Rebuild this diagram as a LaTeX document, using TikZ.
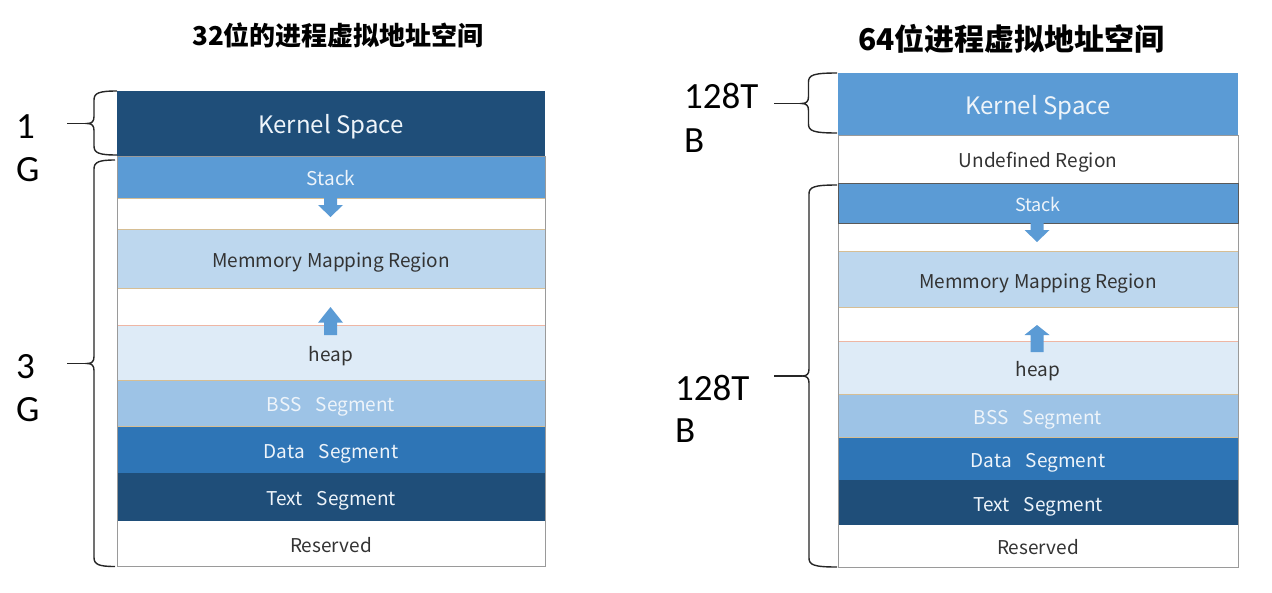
\documentclass[tikz,border=0pt]{standalone}
\usepackage{fontspec}
\setmainfont{Noto Sans CJK SC}
\newfontfamily\sidefont{Carlito}
\definecolor{navy}{HTML}{1F4E79}
\definecolor{midblue}{HTML}{5B9BD5}
\definecolor{mmapblue}{HTML}{BDD7EE}
\definecolor{heapblue}{HTML}{DEEBF7}
\definecolor{bssblue}{HTML}{9DC3E6}
\definecolor{datablue}{HTML}{2E75B6}
\definecolor{septan}{HTML}{D6BE94}
\definecolor{framegray}{HTML}{9A9A9A}
\definecolor{darktext}{HTML}{333333}
\definecolor{lighttext}{HTML}{EEF4FA}
\definecolor{bracegray}{HTML}{262626}

% one horizontal band of an address-space column
% #1 name, #2 left x, #3 top y, #4 width, #5 height, #6 fill, #7 text colour, #8 font size, #9 label
\newcommand\band[9]{%
  \node[band, minimum width=#4, minimum height=#5, fill=#6, text=#7,
        text height=\dimexpr #8pt*72/100+3.5pt\relax,
        font=\fontsize{#8}{#8}\selectfont] (#1) at ({#2+#4/2},{#3+#5/2}) {#9};}

% curly brace: #1 spine x, #2 end x, #3 top y, #4 tip y, #5 bottom y, #6 tick start x
\newcommand\sizebrace[6]{%
  \draw[bracestyle] (#2,#3) .. controls ({#1+5},#3) and (#1,{#3+2}) .. (#1,{#3+9})
    -- (#1,{#4-7}) .. controls (#1,{#4-2}) and ({#1-2},#4) .. ({#1-7},#4)
    .. controls ({#1-2},#4) and (#1,{#4+2}) .. (#1,{#4+7})
    -- (#1,{#5-9}) .. controls (#1,{#5-2}) and ({#1+5},#5) .. (#2,#5);
  \draw[bracestyle] (#6,#4) -- ({#1-7},#4);}

% block arrow: #1 centre x, #2 tail y, #3 head base y, #4 tip y
\newcommand\blockarrow[4]{%
  \fill[midblue] ({#1-6.5},#2) -- ({#1+6.5},#2) -- ({#1+6.5},#3) -- ({#1+12.5},#3)
    -- (#1,#4) -- ({#1-12.5},#3) -- ({#1-6.5},#3) -- cycle;}

\begin{document}
\begin{tikzpicture}[x=1pt,y=-1pt,
  band/.style={inner sep=0pt, outer sep=0pt, draw=none, text depth=0pt},
  sep/.style={draw=septan, line width=0.8pt},
  frame/.style={draw=framegray, line width=0.9pt},
  darkframe/.style={draw=black!65, line width=0.9pt},
  bracestyle/.style={draw=bracegray, line width=1.4pt},
  sidelabel/.style={font=\sidefont\fontsize{37}{37}\selectfont, text=black, inner sep=0pt, anchor=base west},
  title/.style={font=\bfseries\fontsize{26}{30}\selectfont, inner sep=0pt, anchor=base}]
\useasboundingbox (0,0) rectangle (1272,592);
\fill[white] (0,0) rectangle (1272,592);

% titles
\node[title] (t32) at (338,45.5) {32位的进程虚拟地址空间};
\node[title, font=\bfseries\fontsize{30}{34}\selectfont] (t64) at (1011.5,50) {64位进程虚拟地址空间};

% ---- 32-bit column ----
\band{k32}{117}{91}{428}{65}{navy}{lighttext}{24}{Kernel Space}
\band{st32}{117}{156}{428}{42.3}{midblue}{lighttext}{19}{Stack}
\band{mm32}{117}{229.3}{428}{59}{mmapblue}{darktext}{19}{Memmory Mapping Region}
\band{hp32}{117}{325.3}{428}{54.7}{heapblue}{darktext}{19}{heap}
\band{bss32}{117}{380}{428}{46.7}{bssblue}{lighttext}{19}{BSS\hspace{0.75em}Segment}
\band{dt32}{117}{426.7}{428}{46.6}{datablue}{lighttext}{19}{Data\hspace{0.75em}Segment}
\band{tx32}{117}{473.3}{428}{47.4}{navy}{lighttext}{19}{Text\hspace{0.75em}Segment}
\band{rs32}{117}{520.7}{428}{46}{white}{darktext}{19}{Reserved}

\draw[sep] (st32.south west) -- (st32.south east);
\draw[sep] (mm32.north west) -- (mm32.north east);
\draw[sep] (mm32.south west) -- (mm32.south east);
\draw[sep, draw=septan!70!red!60] (hp32.north west) -- (hp32.north east);
\draw[sep] (hp32.south west) -- (hp32.south east);
\draw[sep] (bss32.south west) -- (bss32.south east);
\draw[frame] (st32.north west) rectangle (rs32.south east);

\blockarrow{330.5}{192}{205}{217}
\blockarrow{330.5}{335}{322.7}{307}

% ---- 64-bit column ----
\band{k64}{838}{72.7}{400}{62.3}{midblue}{lighttext}{24}{Kernel Space}
\band{ud64}{838}{135}{400}{48.3}{white}{darktext}{19}{Undefined Region}
\band{st64}{838}{183.3}{400}{40}{midblue}{lighttext}{18}{Stack}
\band{mm64}{838}{251.7}{400}{56}{mmapblue}{darktext}{19}{Memmory Mapping Region}
\band{hp64}{838}{341.7}{400}{52.6}{heapblue}{darktext}{19}{heap}
\band{bss64}{838}{394.3}{400}{43}{bssblue}{lighttext}{19}{BSS\hspace{0.75em}Segment}
\band{dt64}{838}{437.3}{400}{42.7}{datablue}{lighttext}{19}{Data\hspace{0.75em}Segment}
\band{tx64}{838}{480}{400}{45}{navy}{lighttext}{19}{Text\hspace{0.75em}Segment}
\band{rs64}{838}{525}{400}{42.3}{white}{darktext}{19}{Reserved}

\draw[sep] (mm64.north west) -- (mm64.north east);
\draw[sep] (mm64.south west) -- (mm64.south east);
\draw[sep, draw=septan!70!red!60] (hp64.north west) -- (hp64.north east);
\draw[sep] (hp64.south west) -- (hp64.south east);
\draw[sep] (bss64.south west) -- (bss64.south east);
\draw[frame] (ud64.north west) rectangle (rs64.south east);
\draw[darkframe] (st64.north west) rectangle (st64.south east);

\blockarrow{1037}{216}{230}{242}
\blockarrow{1037}{352}{335}{325}

% ---- size braces and labels ----
\sizebrace{94}{117}{91}{123.5}{155}{67}
\sizebrace{94}{115}{160}{363.5}{566.5}{67}
\sizebrace{808.5}{837}{73}{103.5}{133}{774}
\sizebrace{809}{837}{185}{376}{567}{774}

\node[sidelabel] (g1a) at (16,138.3) {1};
\node[sidelabel] (g1b) at (16,181.7) {G};
\node[sidelabel] (g3a) at (16,378) {3};
\node[sidelabel] (g3b) at (16,421.7) {G};
\node[sidelabel] (t128a) at (684,108.3) {128T};
\node[sidelabel] (t128b) at (684,152) {B};
\node[sidelabel] (b128a) at (675,400) {128T};
\node[sidelabel] (b128b) at (675,442) {B};
\end{tikzpicture}
\end{document}
